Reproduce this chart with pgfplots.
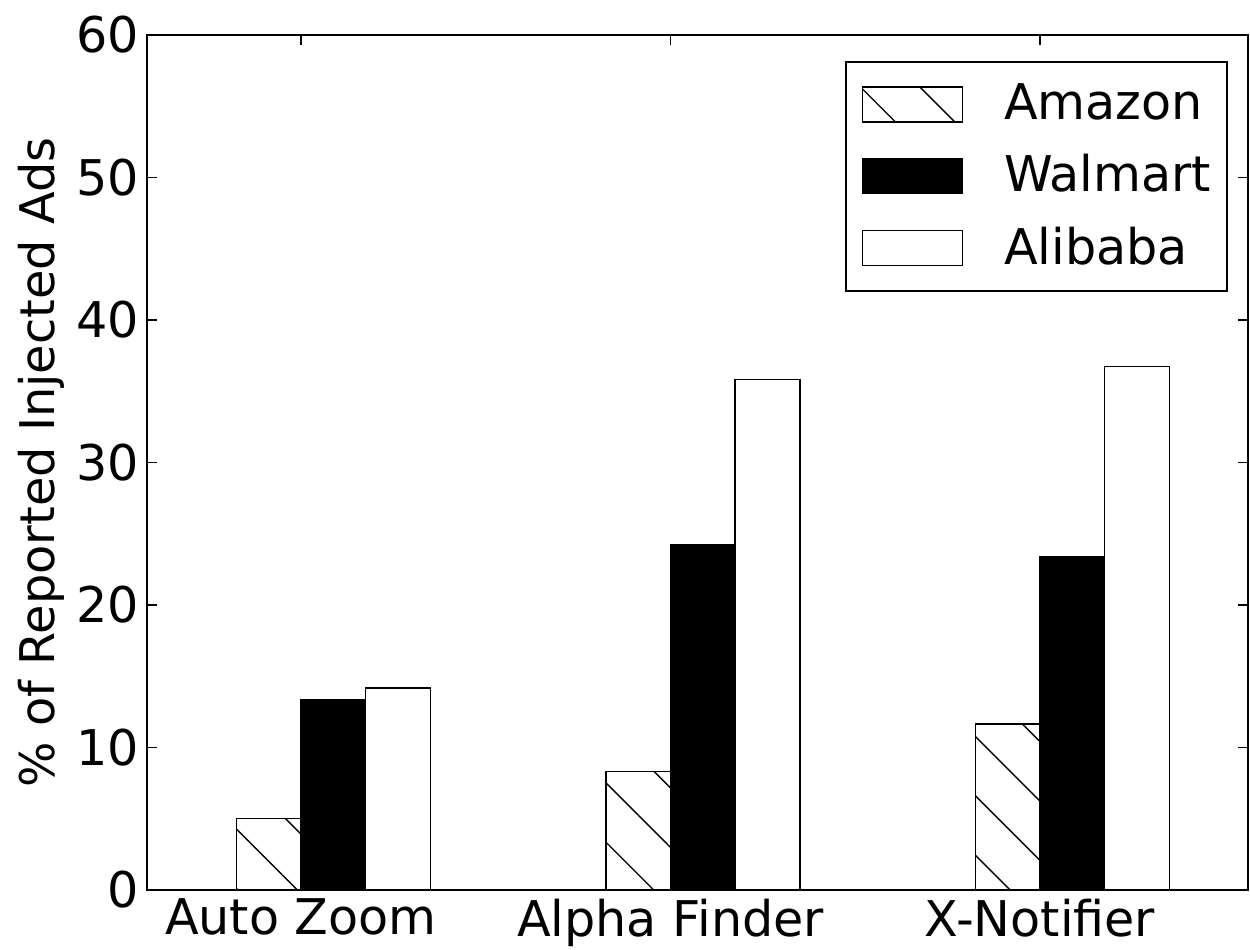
\documentclass[border=0pt]{standalone}
\usepackage{pgfplots}
\pgfplotsset{compat=1.18}
\usepackage{fontspec}
\setmainfont{DejaVu Sans}
\usetikzlibrary{patterns.meta}
\begin{document}
\begin{tikzpicture}
\useasboundingbox (-1.47cm,-0.59cm) rectangle (11.03cm,8.90cm);
\begin{axis}[
  at={(0,0)}, anchor=south west,
  scale only axis, width=11.01cm, height=8.55cm,
  xmin=-0.4168, xmax=2.563, ymin=0, ymax=60,
  xtick={0,1,2}, xticklabels={Auto Zoom, Alpha Finder, X-Notifier},
  ytick={0,10,20,30,40,50,60},
  tick align=inside, major tick length=0.1cm,
  tick style={black, line width=0.35pt},
  axis line style={black, line width=0.75pt},
  axis on top,
  font=\fontsize{14}{16}\selectfont,
  ticklabel style={font=\fontsize{14}{16}\selectfont},
  /pgf/number format/assume math mode=true,
  yticklabel style={inner xsep=0.07cm},
  xticklabel style={inner ysep=0.08cm},
  ylabel={\% of Reported Injected Ads},
  every axis y label/.style={at={(axis description cs:-0.0963,0.5)}, anchor=center, rotate=90, font=\fontsize{13.6}{16}\selectfont},
  legend image code/.code={\draw[#1,/tikz/.cd] (0cm,-0.175cm) rectangle (1cm,0.175cm);},
  legend cell align=left,
  legend style={at={(rel axis cs:0.9818,0.9696)}, anchor=north east, draw=black, line width=0.55pt,
    font=\fontsize{14}{16}\selectfont,
    inner xsep=0.16cm, inner ysep=0.22cm, row sep=0.295cm, column sep=0.0cm,
    nodes={inner sep=0pt}},
]
\addplot[ybar, bar width=0.175, bar shift=0pt, draw=black, line width=0.4pt,
  pattern={Lines[angle=-45,distance=0.42cm,line width=0.4pt]}]
  coordinates {(-0.0875,5.03) (0.9125,8.33) (1.9125,11.65)};
\addlegendentry{\hspace{0.41cm}Amazon}
\addplot[ybar, bar width=0.175, bar shift=0pt, draw=black, line width=0.4pt, fill=black]
  coordinates {(0.0875,13.38) (1.0875,24.26) (2.0875,23.39)};
\addlegendentry{\hspace{0.41cm}Walmart}
\addplot[ybar, bar width=0.175, bar shift=0pt, draw=black, line width=0.4pt, fill=white]
  coordinates {(0.2625,14.18) (1.2625,35.84) (2.2625,36.72)};
\addlegendentry{\hspace{0.41cm}Alibaba}
\end{axis}
\end{tikzpicture}
\end{document}
